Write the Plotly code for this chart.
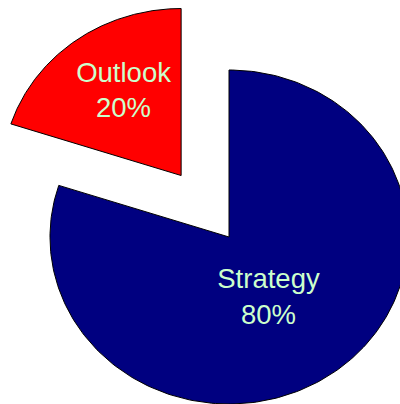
import numpy as np
import plotly.graph_objects as go

# Slice data
labels = ["Strategy", "Outlook"]
values = [80, 20]
colors = ["#000080", "#FF0000"]
pull = [0.0, 0.455]

# Pie placement on the page (pixels) and its radii (slightly wider than tall)
W, H = 400, 404
CX, CY = 229, 237
RX, RY = 179, 167

# Label placement inside each slice: fraction of radius, and turn (degrees) from the slice's middle
label_radius = [0.432, 0.592]
label_turn = [5.3, 3.1]

total = float(sum(values))
fig = go.Figure()

start = 0.0
for lab, val, col, p, lr, lt in zip(labels, values, colors, pull, label_radius, label_turn):
    frac = val / total
    a0, a1 = start * 2 * np.pi, (start + frac) * 2 * np.pi
    mid = (a0 + a1) / 2
    ox, oy = p * np.sin(mid), p * np.cos(mid)
    theta = np.linspace(a0, a1, 240)
    xs = np.concatenate([[ox], ox + np.sin(theta), [ox]])
    ys = np.concatenate([[oy], oy + np.cos(theta), [oy]])
    fig.add_trace(go.Scatter(
        x=xs, y=ys, mode="lines", fill="toself", fillcolor=col,
        line=dict(color="black", width=1), hoverinfo="skip", showlegend=False,
    ))
    pct = round(100 * frac)
    la = mid + np.radians(lt)
    fig.add_trace(go.Scatter(
        x=[ox + lr * np.sin(la)], y=[oy + lr * np.cos(la)],
        mode="text", text=[f"{lab}<br>{pct}%"], textposition="middle center",
        textfont=dict(family="Liberation Sans, Arial, sans-serif", size=27.5, color="#CCFFCC"),
        hoverinfo="skip", showlegend=False,
    ))
    start += frac

fig.update_xaxes(range=[-CX / RX, (W - CX) / RX], visible=False, showgrid=False, zeroline=False)
fig.update_yaxes(range=[(CY - H) / RY, CY / RY], visible=False, showgrid=False, zeroline=False)
fig.update_layout(
    width=W, height=H, margin=dict(l=0, r=0, t=0, b=0),
    paper_bgcolor="white", plot_bgcolor="white",
)

fig.write_html("out.html")
